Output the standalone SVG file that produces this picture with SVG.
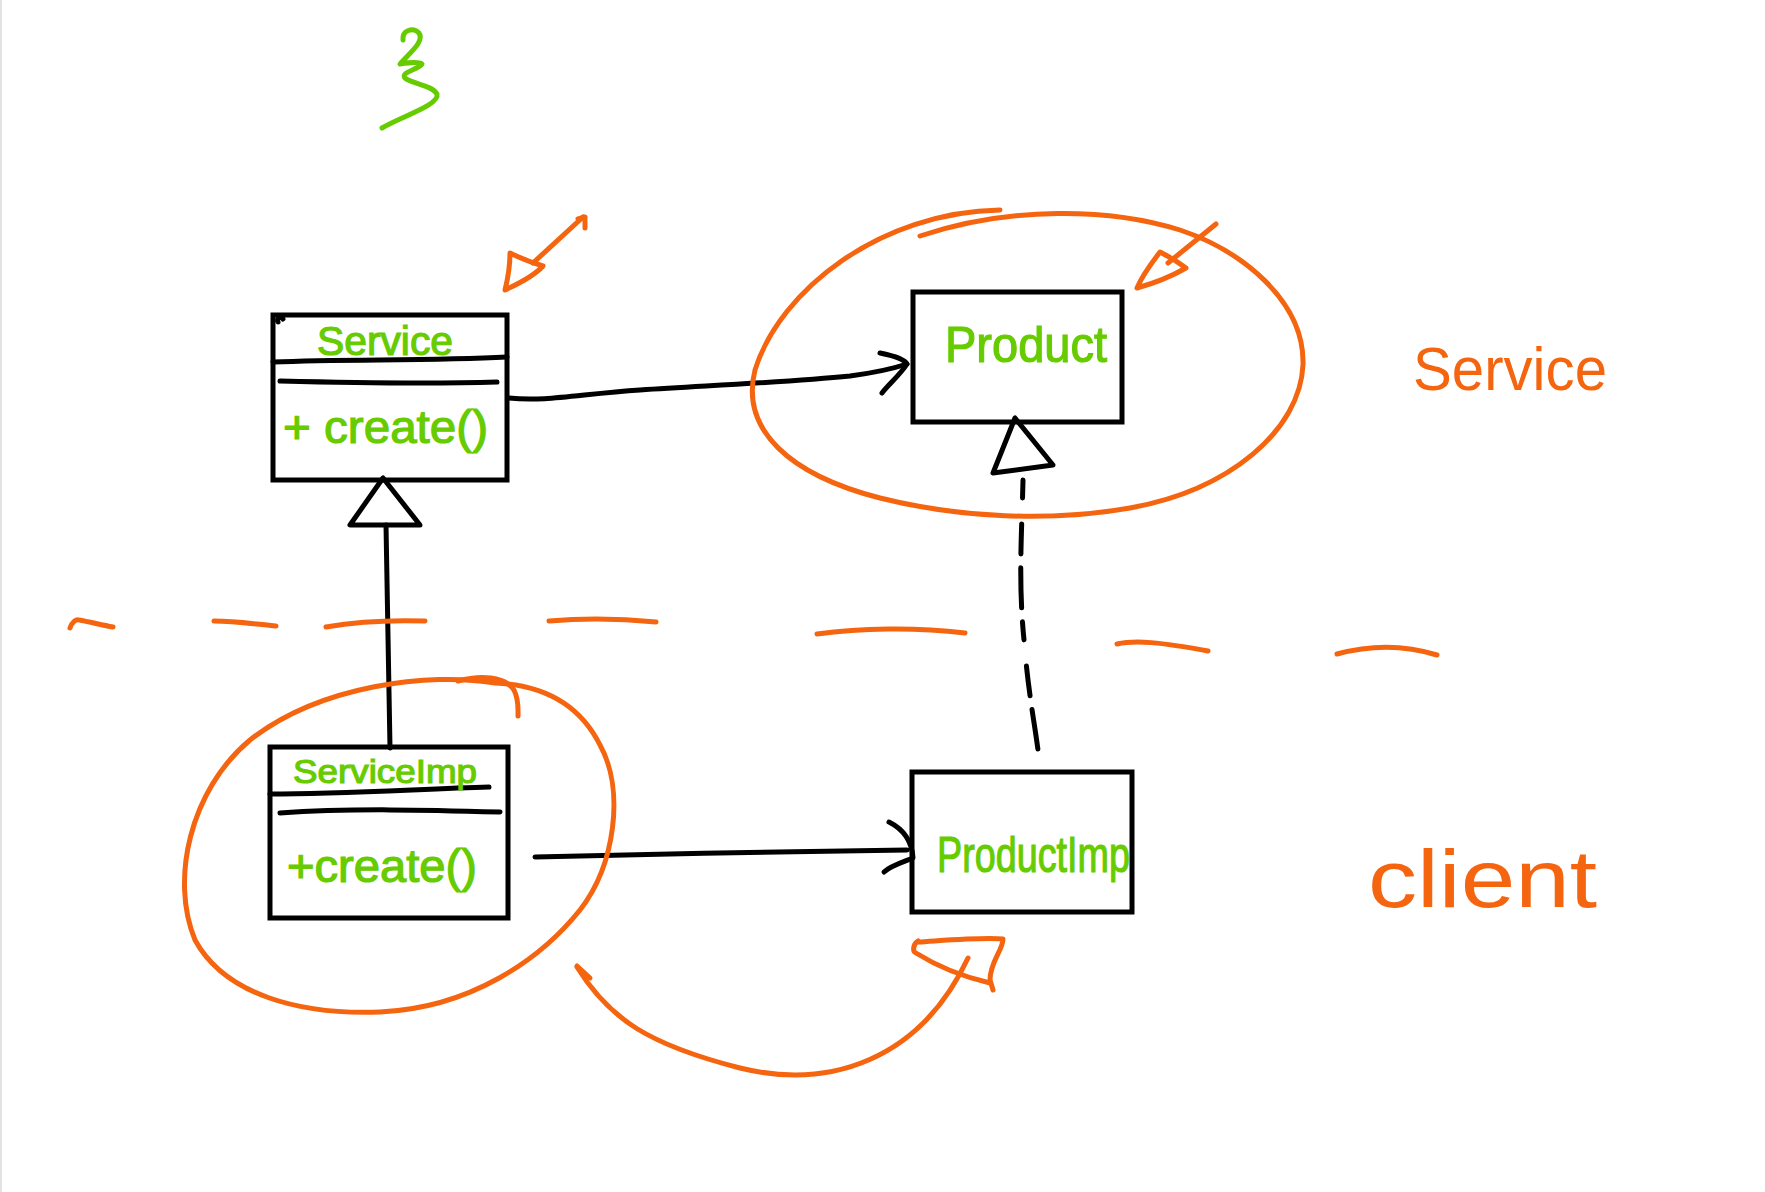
<svg xmlns="http://www.w3.org/2000/svg" width="1765" height="1192" viewBox="0 0 1765 1192">
<style>
.box{fill:#fff;stroke:#000;stroke-width:5;stroke-linejoin:miter}
.ink{fill:none;stroke:#000;stroke-width:5;stroke-linecap:round;stroke-linejoin:round}
.or{fill:none;stroke:#f5650f;stroke-width:5;stroke-linecap:round;stroke-linejoin:round}
.gr{fill:none;stroke:#66cc00;stroke-width:5;stroke-linecap:round;stroke-linejoin:round}
.gt{font-family:"Liberation Sans",Arial,sans-serif;fill:#66cc00;stroke:#66cc00;stroke-width:1.2}
.ot{font-family:"Liberation Sans",Arial,sans-serif;fill:#f5650f}
</style>
<rect width="1765" height="1192" fill="#fff"/>
<line x1="1" y1="0" x2="1" y2="1192" stroke="#e2e2e2" stroke-width="2"/>

<g id="squiggle">
<path class="gr" d="M403,40 C402,30 413,27 419,33 C425,42 408,54 400,64 C406,63 418,61 422,64 C418,70 400,72 405,78 C412,84 432,85 437,94 C440,105 400,117 382,128"/>
</g>

<g id="service">
<rect class="box" x="273" y="315" width="234" height="165"/>
<path class="ink" d="M273,362 C350,359 430,361 507,357"/>
<path class="ink" d="M280,381 C360,383 430,384 497,382"/>
<path class="ink" d="M278,322 C276,318 281,316 283,319"/>
<text class="gt" x="317" y="355" font-size="40" textLength="136" lengthAdjust="spacingAndGlyphs">Service</text>
<text class="gt" x="283" y="443" font-size="46" textLength="205" lengthAdjust="spacingAndGlyphs">+ create()</text>
</g>

<g id="product">
<rect class="box" x="913" y="292" width="209" height="130"/>
<text class="gt" x="945" y="362" font-size="50" textLength="162" lengthAdjust="spacingAndGlyphs">Product</text>
</g>

<g id="serviceImp">
<rect class="box" x="270" y="747" width="238" height="171"/>
<path class="ink" d="M270,794 C340,794 420,789 489,787"/>
<path class="ink" d="M280,813 C350,808 430,810 500,812"/>
<text class="gt" x="293" y="783" font-size="34" textLength="184" lengthAdjust="spacingAndGlyphs">ServiceImp</text>
<text class="gt" x="287" y="882" font-size="46" textLength="190" lengthAdjust="spacingAndGlyphs">+create()</text>
</g>

<g id="productImp">
<rect class="box" x="912" y="772" width="220" height="140"/>
<text class="gt" x="937" y="872" font-size="50" textLength="193" lengthAdjust="spacingAndGlyphs">ProductImp</text>
</g>

<g id="connectors">
<path class="ink" d="M509,398 C545,402 580,394 640,390 C720,385 790,382 850,376 C880,372 895,368 907,364"/>
<path class="ink" d="M880,353 C895,356 905,360 907,364 C900,375 888,385 882,393"/>
<path class="ink" d="M383,478 L350,525 L420,525 Z" fill="#fff"/>
<path class="ink" d="M386,525 L390,748"/>
<path class="ink" d="M1015,418 L993,473 L1053,465 Z" fill="#fff"/>
<path class="ink" d="M1023,480 C1022,530 1018,580 1024,640 C1028,690 1034,720 1038,750" stroke-dasharray="18 26 30 14 40 14"/>
<path class="ink" d="M535,857 C650,854 800,851 907,850"/>
<path class="ink" d="M889,822 C905,830 912,842 913,858 C903,862 890,866 884,872"/>
</g>

<g id="annotations">
<path class="or" d="M583,217 L533,263"/>
<path class="or" d="M578,219 L585,217 L585,228"/>
<path class="or" d="M510,253 C520,258 530,262 543,266 C535,275 518,284 505,290 C508,278 510,265 510,253 Z"/>
<path class="or" d="M1216,224 L1168,263"/>
<path class="or" d="M1160,252 C1150,265 1142,276 1137,288 C1155,283 1172,276 1186,268 C1178,262 1168,256 1160,252 Z"/>
<path class="or" d="M1000,210 C880,212 780,290 755,370 C740,430 790,475 880,498 C960,518 1050,522 1130,508 C1230,490 1300,430 1303,365 C1305,300 1240,250 1180,230 C1110,208 1010,206 920,236"/>
<path class="or" d="M495,683 C430,672 320,685 250,740 C190,790 170,880 195,940 C225,995 300,1015 380,1012 C470,1008 540,960 580,910 C615,865 625,790 600,745 C580,705 545,685 495,683"/>
<path class="or" d="M458,681 C480,675 505,676 514,690 C519,700 518,710 518,716"/>
<path class="or" d="M577,967 C610,1020 650,1045 740,1068 C830,1090 920,1060 968,958"/>
<path class="or" d="M577,966 L590,978"/>
<path class="or" d="M918,942 C950,940 985,937 1003,939 C1003,950 990,962 990,980 L993,990"/>
<path class="or" d="M918,941 C912,945 913,952 916,953 C935,965 960,976 990,983"/>
<path class="or" d="M70,628 C72,622 76,619 79,620 C90,622 102,625 113,627"/>
<path class="or" d="M214,621 C235,621 255,624 276,626"/>
<path class="or" d="M326,627 C360,621 395,620 425,621"/>
<path class="or" d="M549,621 C585,618 625,619 656,622"/>
<path class="or" d="M817,634 C860,628 915,627 965,633"/>
<path class="or" d="M1117,644 C1135,640 1160,642 1208,651"/>
<path class="or" d="M1337,654 C1370,645 1405,645 1437,655"/>
<text class="ot" x="1413" y="390" font-size="62" textLength="194" lengthAdjust="spacingAndGlyphs">Service</text>
<text class="ot" x="1368" y="907" font-size="82" textLength="229" lengthAdjust="spacingAndGlyphs">client</text>
</g>
</svg>
